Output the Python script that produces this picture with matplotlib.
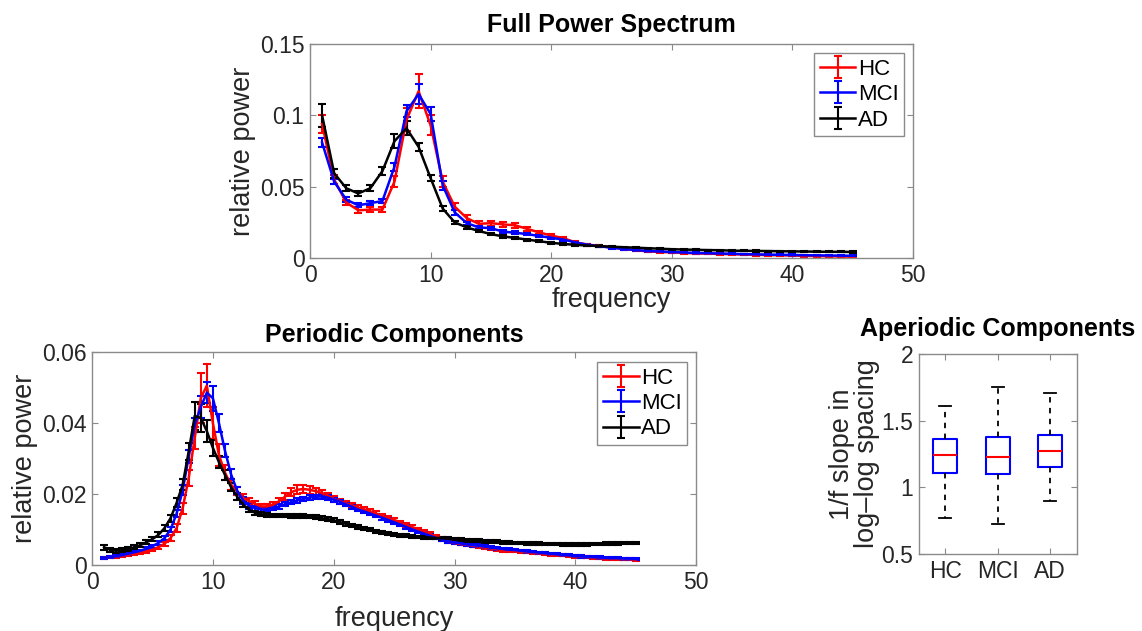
import numpy as np
import matplotlib
matplotlib.use("Agg")
import matplotlib.pyplot as plt

plt.rcParams['font.family'] = ['Liberation Sans', 'DejaVu Sans']

groups = ["HC", "MCI", "AD"]
group_colors = ["red", "blue", "black"]

# ---- Full power spectrum (1..45 Hz, 1 Hz steps) ----
freq_full = np.arange(1, 46)
hc_full = [0.094, 0.055, 0.039, 0.0335, 0.034, 0.034, 0.0536, 0.097, 0.117, 0.093,
           0.0536, 0.036, 0.028, 0.024, 0.0245, 0.0236, 0.023, 0.0205, 0.018, 0.0158,
           0.014, 0.011, 0.0095, 0.0085, 0.0075, 0.0065, 0.0055, 0.0047, 0.0043, 0.004,
           0.0036, 0.0033, 0.0031, 0.0029, 0.0027, 0.0025, 0.0023, 0.0021, 0.002, 0.0018,
           0.0016, 0.0014, 0.0013, 0.0011, 0.001]
mci_full = [0.081, 0.0536, 0.041, 0.037, 0.0385, 0.040, 0.064, 0.103, 0.115, 0.101,
            0.051, 0.032, 0.0245, 0.0215, 0.021, 0.0185, 0.0178, 0.0168, 0.0155, 0.0142,
            0.013, 0.011, 0.0093, 0.0083, 0.0072, 0.0064, 0.0056, 0.005, 0.0046, 0.0043,
            0.0039, 0.0036, 0.0034, 0.0032, 0.003, 0.0028, 0.0026, 0.0024, 0.0023, 0.0022,
            0.002, 0.0019, 0.0018, 0.0017, 0.0016]
ad_full = [0.100, 0.0595, 0.049, 0.0453, 0.049, 0.061, 0.082, 0.091, 0.078, 0.056,
           0.0347, 0.025, 0.0215, 0.019, 0.0168, 0.0152, 0.0141, 0.013, 0.0118, 0.0107,
           0.0099, 0.0093, 0.0088, 0.0084, 0.008, 0.0076, 0.0073, 0.0069, 0.0066, 0.0062,
           0.006, 0.0058, 0.0056, 0.0055, 0.0052, 0.0051, 0.005, 0.0049, 0.0048, 0.0047,
           0.0046, 0.0045, 0.0044, 0.0044, 0.0043]
hc_full_err = [0.006, 0.003, 0.002, 0.002, 0.002, 0.002, 0.004, 0.008, 0.012, 0.007,
               0.004, 0.0025, 0.002, 0.0017, 0.0017, 0.0017, 0.0017, 0.0015, 0.0013, 0.0011,
               0.001, 0.0008, 0.0007, 0.0006, 0.0006, 0.0005, 0.0005, 0.0005, 0.0005, 0.0005,
               0.0005, 0.0005, 0.0005, 0.0005, 0.0005, 0.0005, 0.0005, 0.0005, 0.0005, 0.0005,
               0.0005, 0.0005, 0.0005, 0.0005, 0.0005]
mci_full_err = [0.003, 0.002, 0.0015, 0.0015, 0.0015, 0.0015, 0.003, 0.004, 0.007, 0.005,
                0.003, 0.0015, 0.001, 0.001, 0.001, 0.0009, 0.0009, 0.0008, 0.0008, 0.0007,
                0.0007, 0.0006, 0.0006, 0.0005, 0.0005, 0.0004, 0.0004, 0.0004, 0.0004, 0.0004,
                0.0004, 0.0004, 0.0004, 0.0004, 0.0004, 0.0004, 0.0004, 0.0004, 0.0004, 0.0004,
                0.0004, 0.0004, 0.0004, 0.0004, 0.0004]
ad_full_err = [0.008, 0.003, 0.002, 0.002, 0.002, 0.003, 0.005, 0.005, 0.003, 0.002,
               0.0015, 0.001, 0.001, 0.0009, 0.0008, 0.0008, 0.0007, 0.0007, 0.0006, 0.0006,
               0.0006, 0.0005, 0.0005, 0.0005, 0.0005, 0.0004, 0.0004, 0.0004, 0.0004, 0.0004,
               0.0004, 0.0004, 0.0004, 0.0004, 0.0004, 0.0004, 0.0004, 0.0004, 0.0004, 0.0004,
               0.0004, 0.0004, 0.0004, 0.0004, 0.0004]

# ---- Periodic components (1..45 Hz, 0.5 Hz steps) ----
freq_per = np.arange(1, 45.5, 0.5)
hc_per = [0.0020, 0.0022, 0.0024, 0.0026, 0.0029, 0.0032, 0.0035, 0.0039, 0.0043,   # 1-5
          0.0050, 0.0060, 0.0076, 0.0104, 0.0160, 0.0245, 0.0358, 0.0470, 0.0505,   # 5.5-9.5
          0.0400, 0.0310, 0.0260, 0.0226, 0.0208, 0.0189, 0.0180, 0.0172, 0.0165, 0.0165,
          0.0170, 0.0180, 0.0193, 0.0205, 0.0212, 0.0214, 0.0212, 0.0208, 0.0203, 0.0196,
          0.0186, 0.0180, 0.0174, 0.0168, 0.0162, 0.0157, 0.0151, 0.0145, 0.0139, 0.0133,
          0.0127, 0.0120, 0.0113, 0.0107, 0.0100, 0.0094, 0.0087, 0.0080, 0.0073, 0.0067,
          0.0062, 0.0059, 0.0057, 0.0054, 0.0052, 0.0049, 0.0047, 0.0044, 0.0042, 0.0040,
          0.0039, 0.0037, 0.0036, 0.0034, 0.0033, 0.0031, 0.0029, 0.0028, 0.0027, 0.0025,
          0.0024, 0.0023, 0.0022, 0.0020, 0.0019, 0.0018, 0.0018, 0.0017, 0.0016, 0.0016,
          0.0015]
mci_per = [0.0020, 0.0022, 0.0025, 0.0028, 0.0032, 0.0036, 0.0040, 0.0046, 0.0053,
           0.0062, 0.0076, 0.0100, 0.0145, 0.0210, 0.0305, 0.0395, 0.0445, 0.0485,
           0.0470, 0.0400, 0.0322, 0.0256, 0.0210, 0.0182, 0.0167, 0.0160, 0.0156, 0.0157,
           0.0160, 0.0165, 0.0171, 0.0177, 0.0182, 0.0186, 0.0190, 0.0192, 0.0193, 0.0190,
           0.0184, 0.0178, 0.0171, 0.0164, 0.0156, 0.0151, 0.0145, 0.0139, 0.0133, 0.0127,
           0.0120, 0.0114, 0.0107, 0.0100, 0.0094, 0.0088, 0.0082, 0.0076, 0.0071, 0.0067,
           0.0063, 0.0061, 0.0058, 0.0056, 0.0054, 0.0052, 0.0049, 0.0047, 0.0045, 0.0043,
           0.0042, 0.0040, 0.0038, 0.0036, 0.0035, 0.0033, 0.0031, 0.0030, 0.0028, 0.0027,
           0.0025, 0.0024, 0.0023, 0.0022, 0.0021, 0.0020, 0.0019, 0.0019, 0.0018, 0.0018,
           0.0017]
ad_per = [0.0050, 0.0043, 0.0040, 0.0042, 0.0045, 0.0050, 0.0056, 0.0064, 0.0073,
          0.0085, 0.0104, 0.0132, 0.0175, 0.0226, 0.0320, 0.0420, 0.0414, 0.0377,
          0.0330, 0.0290, 0.0254, 0.0220, 0.0193, 0.0170, 0.0155, 0.0147, 0.0143, 0.0141,
          0.0140, 0.0139, 0.0139, 0.0138, 0.0138, 0.0138, 0.0137, 0.0135, 0.0132, 0.0129,
          0.0126, 0.0121, 0.0116, 0.0111, 0.0107, 0.0103, 0.0099, 0.0095, 0.0092, 0.0089,
          0.0087, 0.0084, 0.0082, 0.0080, 0.0079, 0.0078, 0.0077, 0.0076, 0.0075, 0.0074,
          0.0073, 0.0072, 0.0070, 0.0069, 0.0068, 0.0067, 0.0066, 0.0065, 0.0064, 0.0063,
          0.0062, 0.0062, 0.0061, 0.0060, 0.0060, 0.0059, 0.0059, 0.0059, 0.0058, 0.0058,
          0.0058, 0.0058, 0.0058, 0.0059, 0.0059, 0.0060, 0.0060, 0.0061, 0.0062, 0.0062,
          0.0062]
hc_per_err = [0.0003, 0.0003, 0.0003, 0.0003, 0.0003, 0.0003, 0.0003, 0.0004, 0.0004,
              0.0005, 0.0006, 0.0008, 0.0012, 0.0016, 0.0022, 0.0030, 0.0070, 0.0060,
              0.0045, 0.0030, 0.0022, 0.0016, 0.0012, 0.0010, 0.0009, 0.0008, 0.0008, 0.0008,
              0.0008, 0.0009, 0.0010, 0.0011, 0.0012, 0.0012, 0.0011, 0.0010, 0.0009, 0.0008,
              0.0008, 0.0007, 0.0007, 0.0007, 0.0006, 0.0006, 0.0006, 0.0006, 0.0005, 0.0005,
              0.0005, 0.0005, 0.0005, 0.0005, 0.0005, 0.0005, 0.0005, 0.0005, 0.0005, 0.0005,
              0.0004, 0.0004, 0.0004, 0.0004, 0.0004, 0.0004, 0.0004, 0.0004, 0.0004, 0.0004,
              0.0003, 0.0003, 0.0003, 0.0003, 0.0003, 0.0003, 0.0003, 0.0003, 0.0003, 0.0003,
              0.0003, 0.0003, 0.0003, 0.0003, 0.0003, 0.0003, 0.0003, 0.0003, 0.0003, 0.0003,
              0.0003]
mci_per_err = [0.0003, 0.0003, 0.0003, 0.0003, 0.0003, 0.0003, 0.0003, 0.0004, 0.0004,
               0.0005, 0.0006, 0.0008, 0.0010, 0.0014, 0.0018, 0.0020, 0.0030, 0.0030,
               0.0035, 0.0025, 0.0018, 0.0014, 0.0011, 0.0009, 0.0008, 0.0007, 0.0006, 0.0006,
               0.0006, 0.0006, 0.0006, 0.0006, 0.0006, 0.0006, 0.0006, 0.0006, 0.0006, 0.0006,
               0.0006, 0.0006, 0.0005, 0.0005, 0.0005, 0.0005, 0.0005, 0.0005, 0.0005, 0.0005,
               0.0005, 0.0005, 0.0005, 0.0005, 0.0004, 0.0004, 0.0004, 0.0004, 0.0004, 0.0004,
               0.0004, 0.0004, 0.0004, 0.0004, 0.0004, 0.0004, 0.0004, 0.0004, 0.0004, 0.0004,
               0.0003, 0.0003, 0.0003, 0.0003, 0.0003, 0.0003, 0.0003, 0.0003, 0.0003, 0.0003,
               0.0003, 0.0003, 0.0003, 0.0003, 0.0003, 0.0003, 0.0003, 0.0003, 0.0003, 0.0003,
               0.0003]
ad_per_err = [0.0007, 0.0006, 0.0005, 0.0005, 0.0005, 0.0005, 0.0005, 0.0006, 0.0006,
              0.0007, 0.0008, 0.0010, 0.0013, 0.0016, 0.0025, 0.0040, 0.0040, 0.0030,
              0.0022, 0.0018, 0.0014, 0.0011, 0.0009, 0.0008, 0.0007, 0.0006, 0.0006, 0.0005,
              0.0005, 0.0005, 0.0005, 0.0005, 0.0005, 0.0005, 0.0005, 0.0005, 0.0005, 0.0005,
              0.0005, 0.0005, 0.0005, 0.0005, 0.0005, 0.0005, 0.0004, 0.0004, 0.0004, 0.0004,
              0.0004, 0.0004, 0.0004, 0.0004, 0.0004, 0.0004, 0.0004, 0.0004, 0.0004, 0.0004,
              0.0004, 0.0004, 0.0004, 0.0004, 0.0004, 0.0004, 0.0004, 0.0004, 0.0004, 0.0004,
              0.0004, 0.0004, 0.0004, 0.0004, 0.0004, 0.0004, 0.0004, 0.0004, 0.0004, 0.0004,
              0.0004, 0.0004, 0.0004, 0.0004, 0.0004, 0.0004, 0.0004, 0.0004, 0.0004, 0.0004,
              0.0004]

# ---- Aperiodic 1/f slope box stats: whislo, q1, med, q3, whishi ----
slope_whislo = [0.77, 0.725, 0.90]
slope_q1 = [1.11, 1.10, 1.15]
slope_med = [1.24, 1.23, 1.27]
slope_q3 = [1.365, 1.375, 1.39]
slope_whishi = [1.61, 1.75, 1.71]

full_yticks = [0, 0.05, 0.1, 0.15]
full_yticklabels = ["0", "0.05", "0.1", "0.15"]
per_yticks = [0, 0.02, 0.04, 0.06]
per_yticklabels = ["0", "0.02", "0.04", "0.06"]
freq_ticks = [0, 10, 20, 30, 40, 50]
slope_yticks = [0.5, 1, 1.5, 2]
slope_yticklabels = ["0.5", "1", "1.5", "2"]

TXT = "#262626"
EDGE = "#8a8a8a"
TICK_FS = 16.5
LABEL_FS = 19.5
TITLE_FS = 18
LEG_FS = 16


def style_axes(ax):
    for s in ax.spines.values():
        s.set_color(EDGE)
        s.set_linewidth(1.0)
    ax.tick_params(direction="in", top=True, right=True, length=4,
                   color=EDGE, labelcolor=TXT, labelsize=TICK_FS, pad=4)


def add_legend(ax, anchor):
    leg = ax.legend(loc="upper right", bbox_to_anchor=anchor, borderaxespad=0,
                    fontsize=LEG_FS, fancybox=False, edgecolor=EDGE, framealpha=1,
                    handlelength=1.6, handletextpad=0.1, labelspacing=0.2,
                    borderpad=0.25)
    leg.get_frame().set_linewidth(1.0)
    return leg


fig = plt.figure(figsize=(11.42, 6.31), dpi=100)

# -------- top: full power spectrum --------
ax1 = fig.add_axes([0.2715, 0.591, 0.528, 0.339])
for mean, err, col, name in zip([hc_full, mci_full, ad_full],
                                [hc_full_err, mci_full_err, ad_full_err],
                                group_colors, groups):
    ax1.errorbar(freq_full, mean, yerr=err, color=col, lw=1.8, elinewidth=1.5,
                 capsize=3, capthick=1.5, label=name)
ax1.set_xlim(0, 50)
ax1.set_ylim(0, 0.15)
ax1.set_xticks(freq_ticks)
ax1.set_yticks(full_yticks)
ax1.set_yticklabels(full_yticklabels)
style_axes(ax1)
ax1.set_title("Full Power Spectrum", fontsize=TITLE_FS, fontweight="bold", pad=9)
ax1.set_xlabel("frequency", fontsize=LABEL_FS, color=TXT, labelpad=0)
ax1.set_ylabel("relative power", fontsize=LABEL_FS, color=TXT, labelpad=3)
add_legend(ax1, (0.985, 0.958))

# -------- bottom left: periodic components --------
ax2 = fig.add_axes([0.0806, 0.1046, 0.529, 0.3376])
for mean, err, col, name in zip([hc_per, mci_per, ad_per],
                                [hc_per_err, mci_per_err, ad_per_err],
                                group_colors, groups):
    ax2.errorbar(freq_per, mean, yerr=err, color=col, lw=1.8, elinewidth=1.5,
                 capsize=3, capthick=1.5, label=name)
ax2.set_xlim(0, 50)
ax2.set_ylim(0, 0.06)
ax2.set_xticks(freq_ticks)
ax2.set_yticks(per_yticks)
ax2.set_yticklabels(per_yticklabels)
style_axes(ax2)
ax2.set_title("Periodic Components", fontsize=TITLE_FS, fontweight="bold", pad=7)
ax2.set_xlabel("frequency", fontsize=LABEL_FS, color=TXT, labelpad=9)
ax2.set_ylabel("relative power", fontsize=LABEL_FS, color=TXT, labelpad=3)
add_legend(ax2, (0.985, 0.953))

# -------- bottom right: aperiodic components --------
ax3 = fig.add_axes([0.8047, 0.122, 0.138, 0.317])
stats = []
for i, name in enumerate(groups):
    stats.append({"label": name, "whislo": slope_whislo[i], "q1": slope_q1[i],
                  "med": slope_med[i], "q3": slope_q3[i], "whishi": slope_whishi[i],
                  "fliers": []})
ax3.bxp(stats, positions=[1, 2, 3], widths=0.46, showfliers=False,
        boxprops=dict(color="blue", linewidth=1.5),
        medianprops=dict(color="red", linewidth=1.5),
        whiskerprops=dict(color="black", linestyle=(0, (3, 3)), linewidth=1.3),
        capprops=dict(color="black", linewidth=1.3), capwidths=0.23)
ax3.set_xlim(0.5, 3.5)
ax3.set_ylim(0.5, 2)
ax3.set_yticks(slope_yticks)
ax3.set_yticklabels(slope_yticklabels)
style_axes(ax3)
ax3.set_title("Aperiodic Components", fontsize=TITLE_FS, fontweight="bold", pad=13)
ax3.set_ylabel("1/f slope in\nlog\u2013log spacing", fontsize=LABEL_FS, color=TXT,
               linespacing=0.95)
ax3.yaxis.set_label_coords(-0.25, 0.5)

fig.savefig("out.png", dpi=100)
